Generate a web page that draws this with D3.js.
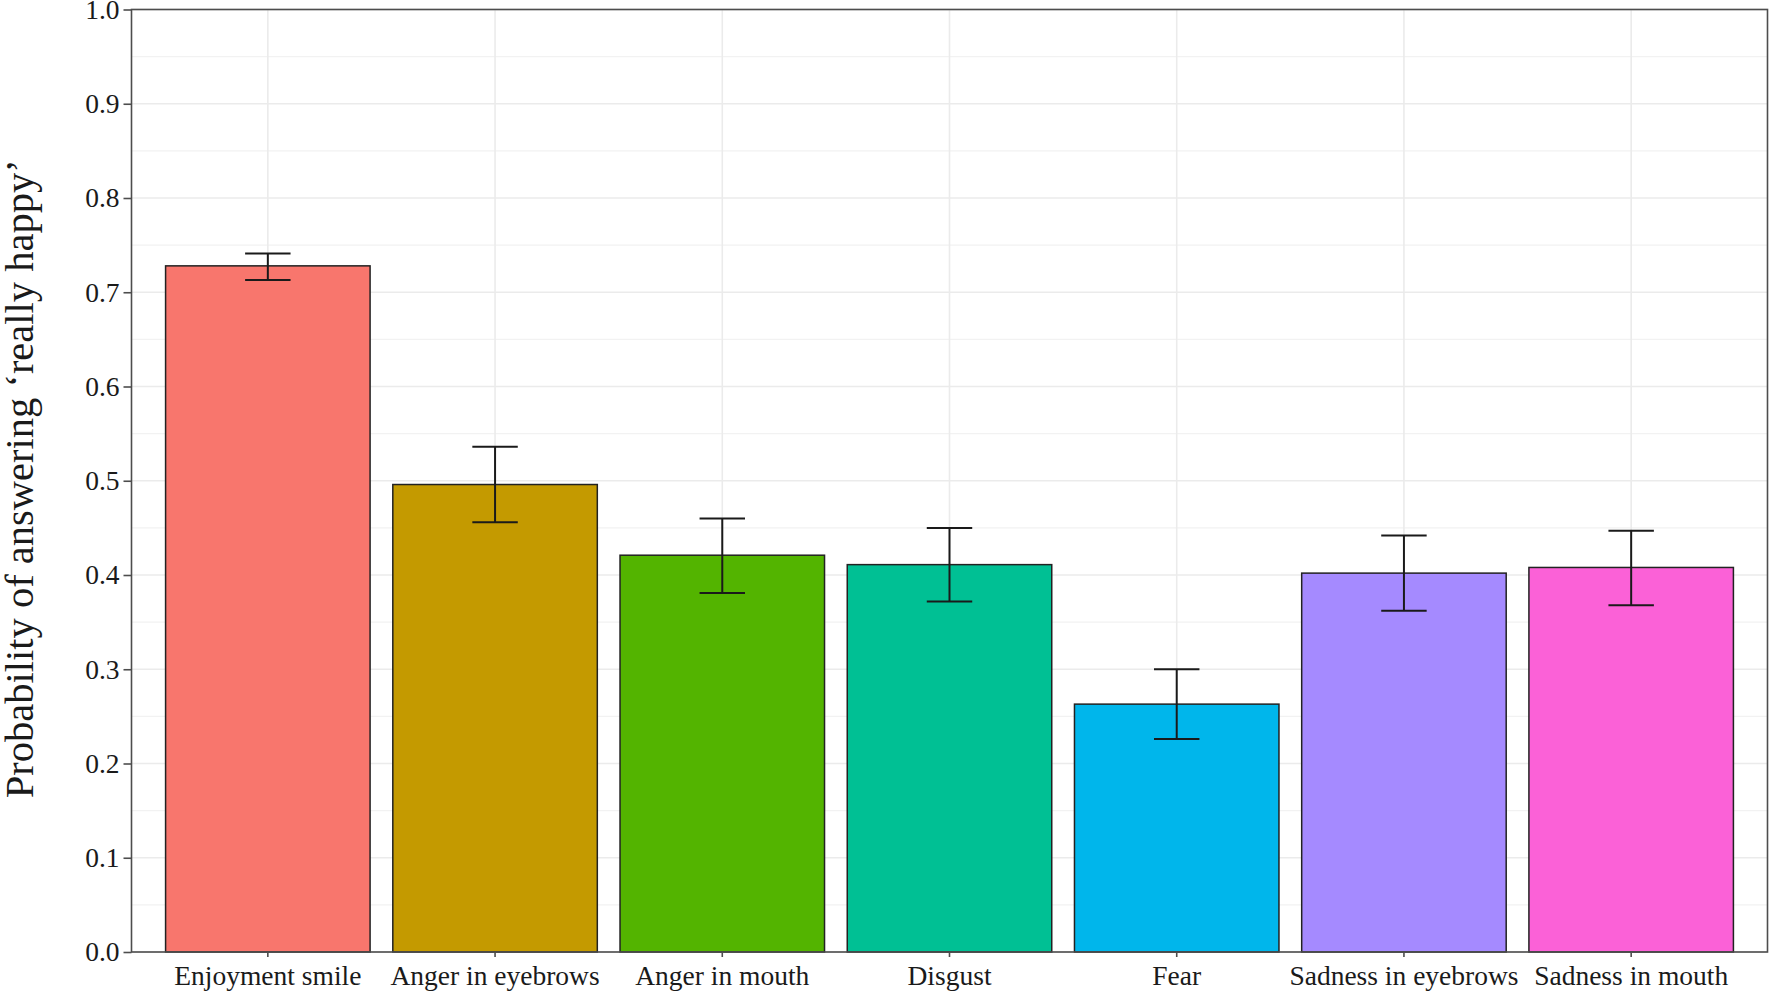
<!DOCTYPE html>
<html>
<head>
<meta charset="utf-8">
<script src="https://cdn.jsdelivr.net/npm/d3@7"></script>
<style>
  html, body { margin: 0; padding: 0; background: #fff; }
  svg { display: block; }
  text { font-family: "Liberation Serif", "Times New Roman", serif; fill: #1a1a1a; }
</style>
</head>
<body>
<svg id="chart" width="1770" height="992"></svg>
<script>
const categories = ["Enjoyment smile", "Anger in eyebrows", "Anger in mouth", "Disgust", "Fear", "Sadness in eyebrows", "Sadness in mouth"];
const probability = [0.728, 0.496, 0.421, 0.411, 0.263, 0.402, 0.408];
const errLower = [0.713, 0.456, 0.381, 0.372, 0.226, 0.362, 0.368];
const errUpper = [0.741, 0.536, 0.460, 0.450, 0.300, 0.442, 0.447];
const colors = ["#F8766D", "#C49A00", "#53B400", "#00C094", "#00B6EB", "#A58AFF", "#FB61D7"];
const yTicks = [0.0, 0.1, 0.2, 0.3, 0.4, 0.5, 0.6, 0.7, 0.8, 0.9, 1.0];
const yMinor = [0.05, 0.15, 0.25, 0.35, 0.45, 0.55, 0.65, 0.75, 0.85, 0.95];
const yTitle = "Probability of answering \u2018really happy\u2019";

const svg = d3.select("#chart");
const L = 131.5, R = 1767.5, T = 9.5, B = 952;

const x = d3.scaleBand().domain(categories).range([L, R]).paddingInner(0.1).paddingOuter(0.15);
const y = d3.scaleLinear().domain([0, 1]).range([B, T]);
const step = x.step();

const data = categories.map((c, i) => ({c, v: probability[i], lo: errLower[i], hi: errUpper[i], col: colors[i]}));

// grid
const grid = svg.append("g");
grid.selectAll("line.minor").data(yMinor).join("line")
  .attr("x1", L).attr("x2", R).attr("y1", d => y(d)).attr("y2", d => y(d))
  .attr("stroke", "#F2F2F2").attr("stroke-width", 1.2);
grid.selectAll("line.major").data(yTicks).join("line")
  .attr("x1", L).attr("x2", R).attr("y1", d => y(d)).attr("y2", d => y(d))
  .attr("stroke", "#EBEBEB").attr("stroke-width", 1.6);
grid.selectAll("line.vmajor").data(categories).join("line")
  .attr("x1", d => x(d) + x.bandwidth() / 2).attr("x2", d => x(d) + x.bandwidth() / 2)
  .attr("y1", T).attr("y2", B)
  .attr("stroke", "#EBEBEB").attr("stroke-width", 1.6);

// bars
svg.append("g").selectAll("rect").data(data).join("rect")
  .attr("x", d => x(d.c)).attr("width", x.bandwidth())
  .attr("y", d => y(d.v)).attr("height", d => y(0) - y(d.v))
  .attr("fill", d => d.col).attr("stroke", "#222").attr("stroke-width", 1.5);

// error bars
const eb = svg.append("g").attr("stroke", "#1a1a1a").attr("stroke-width", 2).attr("fill", "none");
const hw = step * 0.1;
data.forEach(d => {
  const cx = x(d.c) + x.bandwidth() / 2;
  eb.append("line").attr("x1", cx).attr("x2", cx).attr("y1", y(d.lo)).attr("y2", y(d.hi));
  eb.append("line").attr("x1", cx - hw).attr("x2", cx + hw).attr("y1", y(d.lo)).attr("y2", y(d.lo));
  eb.append("line").attr("x1", cx - hw).attr("x2", cx + hw).attr("y1", y(d.hi)).attr("y2", y(d.hi));
});

// panel border
svg.append("rect").attr("x", L).attr("y", T).attr("width", R - L).attr("height", B - T)
  .attr("fill", "none").attr("stroke", "#4d4d4d").attr("stroke-width", 1.6);

// axes
const yAxis = d3.axisLeft(y).tickValues(yTicks).tickFormat(d3.format(".1f")).tickSize(8).tickPadding(4);
const gy = svg.append("g").attr("transform", `translate(${L},0)`).call(yAxis);
gy.select(".domain").remove();
gy.selectAll(".tick line").attr("stroke", "#4d4d4d").attr("stroke-width", 1.6);
gy.selectAll(".tick text").attr("font-size", 27.5).attr("fill", "#1a1a1a")
  .style("font-family", "'Liberation Serif', 'Times New Roman', serif");

const xAxis = d3.axisBottom(x).tickSize(5).tickPadding(4);
const gx = svg.append("g").attr("transform", `translate(0,${B})`).call(xAxis);
gx.select(".domain").remove();
gx.selectAll(".tick line").attr("stroke", "#4d4d4d").attr("stroke-width", 1.6);
gx.selectAll(".tick text").attr("font-size", 27.5).attr("fill", "#1a1a1a").attr("dy", "0.88em")
  .style("font-family", "'Liberation Serif', 'Times New Roman', serif");

// y title
svg.append("text")
  .attr("transform", `translate(33,${(T + B) / 2 - 2}) rotate(-90)`)
  .attr("text-anchor", "middle")
  .attr("font-size", 40.5)
  .text(yTitle);
</script>
</body>
</html>
